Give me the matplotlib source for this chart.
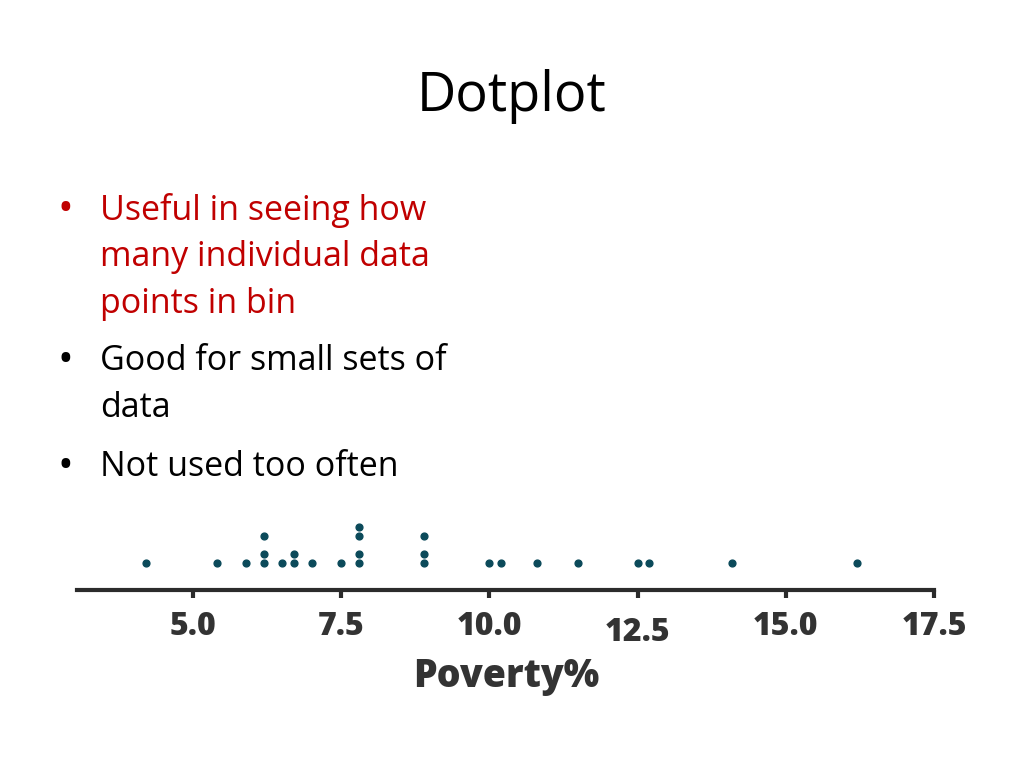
import matplotlib.pyplot as plt
import matplotlib.transforms as mtransforms

# dotplot data
poverty = [4.2, 5.4, 5.9, 6.2, 6.2, 6.2, 6.5, 6.7, 6.7, 7.0, 7.5,
           7.8, 7.8, 7.8, 7.8, 8.9, 8.9, 8.9, 10.0, 10.2, 10.8, 11.5,
           12.5, 12.7, 14.1, 16.2]
# stack level of each dot as drawn (the picture leaves a gap at level 2)
level = [0, 0, 0, 0, 1, 3, 0, 0, 1, 0, 0,
         0, 1, 3, 4, 0, 1, 3, 0, 0, 0, 0,
         0, 0, 0, 0]
ticks = [5.0, 7.5, 10.0, 12.5, 15.0, 17.5]
tick_labels = ['5.0', '7.5', '10.0', '12.5', '15.0', '17.5']

# bullet text, colour, pixel y of the first line's centre
bullets = [
    ('Useful in seeing how\nmany individual data\npoints in bin', '#c00000', 210),
    ('Good for small sets of\ndata', 'black', 361),
    ('Not used too often', 'black', 467),
]

W, H = 1024, 768
FAM = ['Open Sans', 'DejaVu Sans']
fig = plt.figure(figsize=(W / 100, H / 100), dpi=100)
fig.patch.set_facecolor('white')

fig.text(512 / W, 1 - 97 / H, 'Dotplot', ha='center', va='center',
         fontsize=39, family=FAM)

for txt, col, y in bullets:
    fig.text(65 / W, 1 - y / H, '\u2022', ha='center', va='center',
             fontsize=30, color=col, family=FAM)
    fig.text(100 / W, 1 - y / H, txt.split('\n')[0], ha='left',
             va='center', fontsize=24.5, color=col, family=FAM)
    for i, line in enumerate(txt.split('\n')[1:], start=1):
        fig.text(100 / W, 1 - (y + 47 * i) / H, line, ha='left',
                 va='center', fontsize=24.5, color=col, family=FAM)

# axes placed so that the axis line sits at pixel y=590, x from 77 to 934
x0, x1 = 77, 934
ax = fig.add_axes([x0 / W, 1 - 590 / H, (x1 - x0) / W, 75 / H])
ax.scatter(poverty, level, s=24, color='#0b4a5a', zorder=3)
ax.set_xlim(3.044, 17.5)
ax.set_ylim(-3, 5.33)
for s in ['left', 'right', 'top']:
    ax.spines[s].set_visible(False)
ax.spines['bottom'].set_linewidth(3)
ax.spines['bottom'].set_color('#2b2b2b')
ax.set_yticks([])
ax.set_xticks(ticks)
ax.set_xticklabels(tick_labels, fontsize=23, fontweight=800,
                   color='#333333', family=FAM)
ax.tick_params(axis='x', direction='out', length=6, width=3,
               color='#2b2b2b', pad=9)
ax.patch.set_alpha(0)

# 12.5 sits a little lower on the original slide
lab = ax.get_xticklabels()[3]
lab.set_transform(lab.get_transform() +
                  mtransforms.ScaledTranslation(0, -6 / 100, fig.dpi_scale_trans))

fig.text(506 / W, 1 - 677 / H, 'Poverty%', ha='center', va='center',
         fontsize=27, fontweight=800, color='#333333', family=FAM)

fig.savefig('out.png', dpi=100)
